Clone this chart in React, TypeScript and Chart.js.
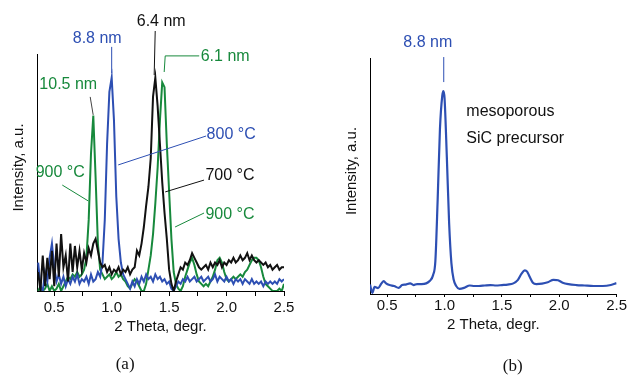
import React, { useEffect, useRef } from 'react';
import { Chart, registerables } from 'chart.js';

Chart.register(...registerables);

// ---------- Panel (a): three XRD patterns ----------
const thetaA = [
  0.36, 0.38, 0.40, 0.42, 0.44, 0.46, 0.48, 0.50, 0.52, 0.54,
  0.56, 0.58, 0.60, 0.62, 0.64, 0.66, 0.68, 0.70, 0.72, 0.74,
  0.76, 0.78, 0.80, 0.82, 0.84, 0.86, 0.88, 0.90, 0.92, 0.94,
  0.96, 0.98, 1.00, 1.02, 1.04, 1.06, 1.08, 1.10, 1.12, 1.14,
  1.16, 1.18, 1.20, 1.22, 1.24, 1.26, 1.28, 1.30, 1.32, 1.34,
  1.36, 1.38, 1.40, 1.42, 1.44, 1.46, 1.48, 1.50, 1.52, 1.54,
  1.56, 1.58, 1.60, 1.62, 1.64, 1.66, 1.68, 1.70, 1.72, 1.74,
  1.76, 1.78, 1.80, 1.82, 1.84, 1.86, 1.88, 1.90, 1.92, 1.94,
  1.96, 1.98, 2.00, 2.02, 2.04, 2.06, 2.08, 2.10, 2.12, 2.14,
  2.16, 2.18, 2.20, 2.22, 2.24, 2.26, 2.28, 2.30, 2.32, 2.34,
  2.36, 2.38, 2.40, 2.42, 2.44, 2.46, 2.48, 2.50,
];

const int800 = [
  12, 2, 0, 8, 4, 14, 20, 10, 4, 7,
  3, 6, 2, 5, 3, 6, 4, 7, 3, 5,
  4, 6, 3, 7, 4, 5, 8, 6, 12, 30,
  62, 84, 90, 72, 40, 22, 12, 7, 5, 3,
  1, 4, 2, 5, 3, 6, 4, 7, 5, 6,
  4, 7, 5, 6, 4, 5, 3, 4, 1, 0,
  2, 4, 3, 5, 4, 6, 4, 5, 6, 4,
  5, 6, 4, 5, 6, 4, 5, 7, 4, 6,
  5, 4, 6, 4, 5, 3, 5, 4, 5, 3,
  5, 4, 3, 5, 3, 4, 3, 4, 2, 4,
  3, 4, 3, 4, 3, 5, 4, 5,
];

const int700 = [
  8, 0, 15, 2, 14, 5, 17, 2, 20, 6,
  24, 10, 15, 4, 20, 8, 19, 10, 17, 9,
  16, 12, 18, 15, 20, 22, 17, 12, 10, 11,
  8, 10, 7, 9, 8, 10, 7, 9, 8, 10,
  7, 9, 10, 17, 15, 20, 27, 36, 44, 56,
  82, 90, 78, 62, 46, 33, 22, 9, 3, 0,
  4, 7, 10, 9, 12, 11, 13, 16, 14, 12,
  10, 9, 10, 11, 9, 12, 10, 12, 11, 13,
  10, 12, 11, 13, 12, 14, 12, 13, 15, 13,
  14, 16, 13, 15, 13, 12, 13, 12, 11, 12,
  10, 11, 9, 10, 11, 9, 10, 10,
];

const int900 = [
  0, 2, 0, 1, 3, 0, 2, 0, 1, 3,
  0, 2, 4, 6, 5, 7, 6, 8, 6, 7,
  9, 14, 30, 58, 74, 48, 20, 9, 7, 5,
  6, 7, 5, 6, 8, 6, 7, 5, 4, 2,
  1, 3, 5, 4, 2, 0, 0, 3, 9, 15,
  24, 37, 52, 72, 88, 86, 62, 42, 22, 8,
  3, 1, 0, 2, 6, 9, 12, 14, 11, 7,
  4, 3, 2, 3, 2, 4, 6, 9, 13, 14,
  12, 8, 5, 4, 5, 6, 5, 6, 7, 6,
  8, 9, 11, 13, 14, 14, 13, 10, 6, 3,
  2, 1, 0, 0, 0, 1, 0, 3,
];

// ---------- Panel (b): mesoporous SiC precursor ----------
const thetaB = [
  0.35, 0.37, 0.39, 0.42, 0.45, 0.47, 0.49, 0.52, 0.56, 0.60,
  0.63, 0.66, 0.70, 0.73, 0.76, 0.80, 0.84, 0.87, 0.90, 0.92,
  0.94, 0.96, 0.98, 0.99, 1.00, 1.02, 1.04, 1.06, 1.08, 1.10,
  1.13, 1.17, 1.22, 1.26, 1.30, 1.35, 1.40, 1.45, 1.50, 1.55,
  1.60, 1.64, 1.67, 1.70, 1.72, 1.74, 1.77, 1.80, 1.85, 1.90,
  1.95, 1.99, 2.03, 2.08, 2.15, 2.22, 2.30, 2.38, 2.45, 2.50,
];

const intB = [
  4, 0.5, 3, 2.5, 4.5, 5.5, 4.5, 3.8, 3.4, 2.6,
  3.8, 4, 4.5, 3.8, 4.2, 4.2, 4.5, 5.5, 8, 14,
  40, 70, 84, 86, 83, 58, 30, 13, 6, 3.5,
  2.2, 2.6, 3.6, 3.4, 3.4, 3.6, 3.8, 3.6, 3.8, 4,
  4.5, 6, 8.5, 10, 9.5, 7.5, 4.8, 4.2, 4.4, 5,
  6, 5.8, 4.8, 4.2, 3.8, 3.6, 3.4, 3.4, 3.8, 4.6,
];

const xTickValues = [0.5, 0.75, 1.0, 1.25, 1.5, 1.75, 2.0, 2.25, 2.5];
const X_MIN = 0.35;
const X_MAX = 2.5;

const BLUE = '#2d4fb3';
const GREEN = '#17893c';
const BLACK = '#111111';
const GRAY = '#444444';
const FONT = '"Liberation Sans", Arial, Helvetica, sans-serif';
const SERIF = '"Liberation Serif", "Times New Roman", serif';

type TextAnn = { t: string; x: number; y: number; c: string; align?: CanvasTextAlign };
type LineAnn = { pts: number[][]; c: string };
type Ann = { texts: TextAnn[]; lines: LineAnn[]; panel: TextAnn; yTitle: string };

const annA: Ann = {
  texts: [
    { t: '8.8 nm', x: 0.874, y: 106.3, c: BLUE },
    { t: '6.4 nm', x: 1.431, y: 113.5, c: BLACK },
    { t: '6.1 nm', x: 1.988, y: 98.7, c: GREEN },
    { t: '10.5 nm', x: 0.622, y: 86.9, c: GREEN },
    { t: '800 °C', x: 2.04, y: 65.8, c: BLUE },
    { t: '900 °C', x: 0.552, y: 49.8, c: GREEN },
    { t: '700 °C', x: 2.03, y: 48.5, c: BLACK },
    { t: '900 °C', x: 2.03, y: 32.1, c: GREEN },
  ],
  lines: [
    { pts: [[1.0, 103], [1.0, 92]], c: BLUE },
    { pts: [[1.379, 109.7], [1.37, 91.1]], c: BLACK },
    { pts: [[1.762, 99.2], [1.466, 99.2], [1.457, 92.4]], c: GREEN },
    { pts: [[0.813, 81.9], [0.839, 74.3]], c: GRAY },
    { pts: [[1.822, 65.4], [1.057, 53.2]], c: BLUE },
    { pts: [[0.57, 44.7], [0.796, 38]], c: GREEN },
    { pts: [[1.804, 46.8], [1.466, 41.8]], c: BLACK },
    { pts: [[1.804, 32.9], [1.552, 27]], c: GREEN },
  ],
  panel: { t: '(a)', x: 1.117, y: -31.2, c: BLACK },
  yTitle: 'Intensity, a.u.',
};

const annB: Ann = {
  texts: [
    { t: '8.8 nm', x: 0.854, y: 106.4, c: BLUE },
    { t: 'mesoporous', x: 1.19, y: 77.1, c: BLACK, align: 'left' },
    { t: 'SiC precursor', x: 1.19, y: 65.7, c: BLACK, align: 'left' },
  ],
  lines: [{ pts: [[0.993, 100.4], [0.993, 89.8]], c: BLUE }],
  panel: { t: '(b)', x: 1.595, y: -30.9, c: BLACK },
  yTitle: 'Intensity, a.u.',
};

function annotationPlugin(ann: Ann) {
  return {
    id: 'annotations',
    afterDraw(chart: any) {
      const { ctx, chartArea } = chart;
      const xs = chart.scales.x;
      const ys = chart.scales.y;
      const px = (v: number) => xs.getPixelForValue(v);
      const py = (v: number) => ys.getPixelForValue(v);
      ctx.save();
      ctx.lineWidth = 1;
      for (const l of ann.lines) {
        ctx.strokeStyle = l.c;
        ctx.beginPath();
        l.pts.forEach((p, i) => {
          if (i === 0) ctx.moveTo(px(p[0]), py(p[1]));
          else ctx.lineTo(px(p[0]), py(p[1]));
        });
        ctx.stroke();
      }
      ctx.font = `16px ${FONT}`;
      ctx.textBaseline = 'middle';
      for (const t of ann.texts) {
        ctx.fillStyle = t.c;
        ctx.textAlign = t.align || 'center';
        ctx.fillText(t.t, px(t.x), py(t.y));
      }
      // panel label
      ctx.font = `17px ${SERIF}`;
      ctx.textAlign = 'center';
      ctx.fillStyle = ann.panel.c;
      ctx.fillText(ann.panel.t, px(ann.panel.x), py(ann.panel.y));
      // y title
      ctx.font = `15px ${FONT}`;
      ctx.fillStyle = BLACK;
      ctx.translate(chartArea.left - 18, (chartArea.top + chartArea.bottom) / 2 - 5);
      ctx.rotate(-Math.PI / 2);
      ctx.fillText(ann.yTitle, 0, 0);
      ctx.restore();
    },
  };
}

function buildChart(
  canvas: HTMLCanvasElement,
  datasets: any[],
  padding: any,
  tickLength: number,
  tickPad: number,
  titlePad: number,
  ann: Ann,
) {
  return new Chart(canvas, {
    type: 'line',
    data: { datasets },
    options: {
      animation: false,
      responsive: false,
      maintainAspectRatio: false,
      layout: { padding },
      plugins: { legend: { display: false }, tooltip: { enabled: false } },
      elements: { point: { radius: 0 } },
      scales: {
        x: {
          type: 'linear',
          min: X_MIN,
          max: X_MAX,
          afterBuildTicks: (s: any) => {
            s.ticks = xTickValues.map((v) => ({ value: v }));
          },
          afterFit: (s: any) => {
            s.height = 60;
          },
          grid: {
            display: true,
            drawOnChartArea: false,
            drawTicks: true,
            tickLength,
            color: '#000',
            lineWidth: 1,
          },
          border: { display: true, color: '#000', width: 1 },
          ticks: {
            autoSkip: false,
            maxRotation: 0,
            padding: tickPad,
            color: BLACK,
            font: { family: FONT, size: 15 },
            callback: (v: any) => {
              const n = Number(v);
              return Math.abs(n * 2 - Math.round(n * 2)) < 1e-9 ? n.toFixed(1) : '';
            },
          },
          title: {
            display: true,
            text: '2 Theta, degr.',
            color: BLACK,
            font: { family: FONT, size: 15 },
            padding: { top: 0, bottom: titlePad },
          },
        },
        y: {
          min: 0,
          max: 100,
          afterFit: (s: any) => {
            s.width = 0;
          },
          grid: { display: false },
          ticks: { display: false },
          border: { display: true, color: '#000', width: 1 },
        },
      },
    } as any,
    plugins: [annotationPlugin(ann)],
  });
}

export default function App() {
  const refA = useRef<HTMLCanvasElement>(null);
  const refB = useRef<HTMLCanvasElement>(null);

  useEffect(() => {
    const toPts = (xs: number[], ys: number[]) => xs.map((x, i) => ({ x, y: ys[i] }));
    const chartA = buildChart(
      refA.current!,
      [
        { label: '700 °C', data: toPts(thetaA, int700), borderColor: BLACK, borderWidth: 2, tension: 0 },
        { label: '800 °C', data: toPts(thetaA, int800), borderColor: BLUE, borderWidth: 2, tension: 0 },
        { label: '900 °C', data: toPts(thetaA, int900), borderColor: GREEN, borderWidth: 2, tension: 0 },
      ],
      { left: 37, right: 29, top: 54, bottom: 24 },
      5,
      3,
      15,
      annA,
    );
    const chartB = buildChart(
      refB.current!,
      [
        {
          label: 'mesoporous SiC precursor',
          data: toPts(thetaB, intB),
          borderColor: BLUE,
          borderWidth: 2.2,
          cubicInterpolationMode: 'monotone',
        },
      ],
      { left: 57, right: 10, top: 58, bottom: 21 },
      3,
      0,
      20,
      annB,
    );
    return () => {
      chartA.destroy();
      chartB.destroy();
    };
  }, []);

  return (
    <div style={{ position: 'fixed', left: 0, top: 0, width: 627, height: 375, background: '#fff' }}>
      <canvas ref={refA} width={313} height={375} style={{ position: 'absolute', left: 0, top: 0 }} />
      <canvas ref={refB} width={314} height={375} style={{ position: 'absolute', left: 313, top: 0 }} />
    </div>
  );
}
